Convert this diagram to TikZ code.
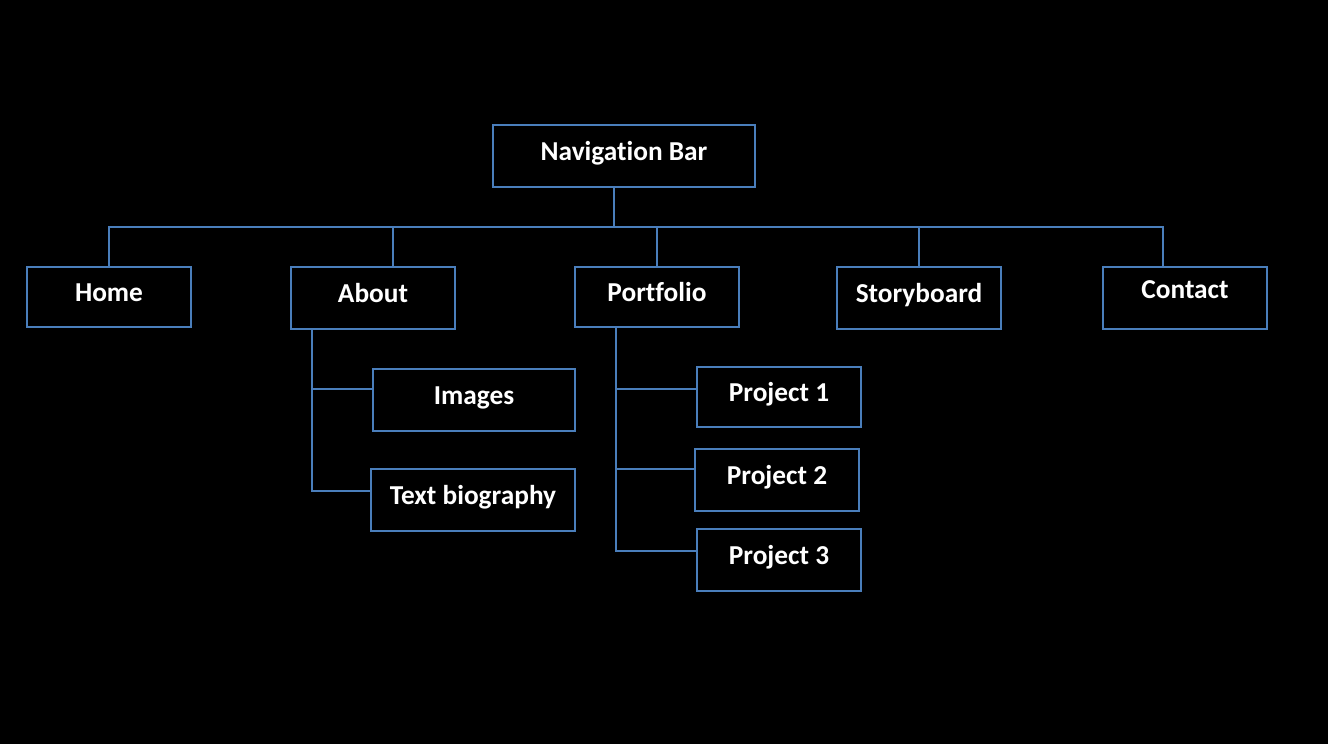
\documentclass[tikz,border=0pt]{standalone}
\usepackage{fontspec}
\setmainfont[Ligatures=NoCommon]{Carlito}
\usetikzlibrary{positioning}
\definecolor{navblue}{HTML}{4A7EBB}

\tikzset{
    menubox/.style={draw=navblue, line width=1.5pt, text=white, font=\bfseries\fontsize{20.5}{24}\selectfont,
        minimum width=123pt, minimum height=45pt, inner sep=0pt, text height=13pt, text depth=5.8pt},
    link/.style={navblue, line width=1.5pt}
}

\begin{document}
\begin{tikzpicture}[x=0.75pt, y=-0.75pt]
        \fill [black] (0,0) rectangle (1328,744);
        \useasboundingbox (0,0) rectangle (1328,744);

        % top level
        \node [menubox, minimum width=196.5pt, minimum height=46.5pt] (nav) at (624,156) {Navigation Bar};
        \node [menubox] (home) at (109,297) {Home};
        \node [menubox, minimum height=46.5pt] (about) at (373,298) {About};
        \node [menubox] (portfolio) at (657,297) {Portfolio};
        \node [menubox, minimum height=46.5pt] (story) at (919,298) {Storyboard};
        \node [menubox, minimum height=46.5pt] (contact) at (1185,298) {\raisebox{3pt}{Contact}};

        % sub pages
        \node [menubox, minimum width=151.5pt, minimum height=46.5pt] (images) at (474,400) {Images};
        \node [menubox, minimum width=153pt, minimum height=46.5pt] (textbio) at (473,500) {Text biography};
        \node [menubox] (proj1) at (779,397) {Project 1};
        \node [menubox, minimum height=46.5pt] (proj2) at (777,480) {Project 2};
        \node [menubox, minimum height=46.5pt] (proj3) at (779,560) {Project 3};

        % bus
        \coordinate (bus) at (614,227);
        \coordinate (abouttop) at (393,227);
        \coordinate (contacttop) at (1163,227);
        \coordinate (aboutstem) at (312,491);
        \coordinate (imagesjoin) at (312,389);
        \coordinate (portstem) at (616,551);
        \coordinate (proj1join) at (616,389);
        \coordinate (proj2join) at (616,469);

        \draw [link] (nav.south -| bus) -- (bus);
        \draw [link] (home.north) -- (home.north |- bus) -- (contacttop) -- (contacttop |- contact.north);
        \draw [link] (abouttop) -- (abouttop |- about.north);
        \draw [link] (portfolio.north |- bus) -- (portfolio.north);
        \draw [link] (story.north |- bus) -- (story.north);

        % about branch
        \draw [link] (about.south -| aboutstem) -- (aboutstem) -- (textbio.west |- aboutstem);
        \draw [link] (imagesjoin) -- (images.west |- imagesjoin);

        % portfolio branch
        \draw [link] (portfolio.south -| portstem) -- (portstem) -- (proj3.west |- portstem);
        \draw [link] (proj1join) -- (proj1.west |- proj1join);
        \draw [link] (proj2join) -- (proj2.west |- proj2join);
    \end{tikzpicture}
\end{document}
